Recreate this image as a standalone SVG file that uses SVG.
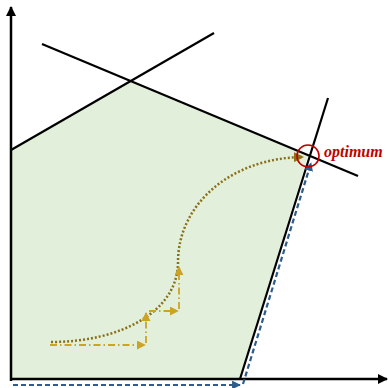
<svg xmlns="http://www.w3.org/2000/svg" width="389" height="388" viewBox="0 0 389 388">
<style>
.ax{stroke:#000;stroke-width:2.5;fill:none}
.ln{stroke:#000;stroke-width:2.2;fill:none}
.blue{stroke:#2e5d8c;stroke-width:2.2;stroke-dasharray:5 3;fill:none}
.dot{stroke:#8a6f16;stroke-width:2.5;stroke-dasharray:2 2;fill:none}
.dd{stroke:#cda323;stroke-width:1.8;stroke-dasharray:7 3 1.5 3;fill:none}
</style>
<defs>
<marker id="ak" viewBox="0 0 10 10" refX="9" refY="5" markerWidth="4" markerHeight="4" orient="auto" markerUnits="strokeWidth"><path d="M0,0L10,5L0,10z" fill="#000"/></marker>
<marker id="ab" viewBox="0 0 10 10" refX="9" refY="5" markerWidth="4" markerHeight="4" orient="auto" markerUnits="strokeWidth"><path d="M0,0L10,5L0,10z" fill="#2e5d8c"/></marker>
<marker id="ao" viewBox="0 0 10 10" refX="9" refY="5" markerWidth="4" markerHeight="4" orient="auto" markerUnits="strokeWidth"><path d="M0,0L10,5L0,10z" fill="#8a6f16"/></marker>
<marker id="ag" viewBox="0 0 10 10" refX="9" refY="5" markerWidth="5" markerHeight="5" orient="auto" markerUnits="strokeWidth"><path d="M0,0L10,5L0,10z" fill="#cda323"/></marker>
</defs>
<g id="region">
<polygon points="11,150 130,81 308,156 240,379 11,379" fill="#e2efda"/>
</g>
<g id="axes">
<line class="ax" x1="11" y1="381" x2="11" y2="7" marker-end="url(#ak)"/>
<line class="ax" x1="10" y1="379" x2="387" y2="379" marker-end="url(#ak)"/>
</g>
<g id="constraints">
<line class="ln" x1="42" y1="44" x2="358" y2="176"/>
<line class="ln" x1="11" y1="150" x2="214" y2="33"/>
<line class="ln" x1="240" y1="379" x2="328" y2="98"/>
</g>
<g id="connectors">
<path class="blue" d="M13,385 L240,385" marker-end="url(#ab)"/>
<path class="blue" d="M243,384 L311,163" marker-end="url(#ab)"/>
<path class="dot" d="M51,342 C120,342 178,312 178,262 C178,205 230,158 303,157" marker-end="url(#ao)"/>
<path class="dd" d="M50,345 L145,345" marker-end="url(#ag)"/>
<path class="dd" d="M146,343 L146,313" marker-end="url(#ag)"/>
<path class="dd" d="M149,311 L178,311" marker-end="url(#ag)"/>
<path class="dd" d="M179,309 L179,267" marker-end="url(#ag)"/>
</g>
<g id="optimum">
<circle cx="308" cy="156" r="11" fill="none" stroke="#c00000" stroke-width="1.6"/>
<text x="324" y="157" font-family="'Liberation Serif', serif" font-size="16" font-style="italic" font-weight="bold" fill="#c00000">optimum</text>
</g>
</svg>
